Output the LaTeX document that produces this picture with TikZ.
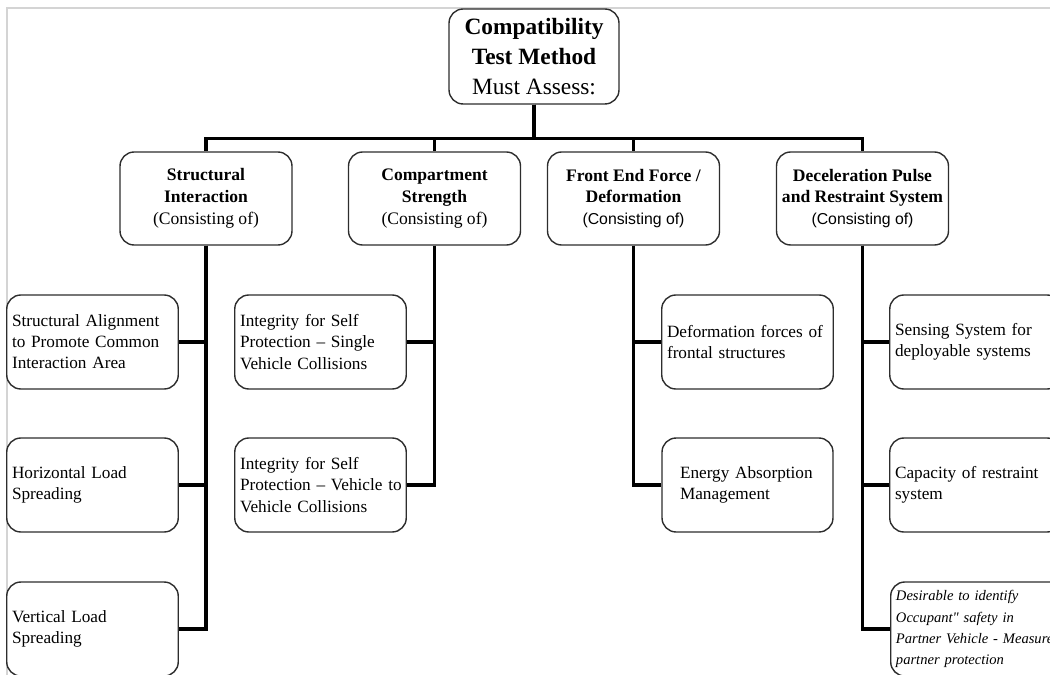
\documentclass[tikz,border=0pt]{standalone}
\usepackage{fontspec}
\setmainfont{Liberation Serif}
\newfontfamily\arialfont{Liberation Sans}
\newfontfamily\plainserif{Liberation Serif}[Ligatures=TeXOff]
\usetikzlibrary{positioning,calc}
\definecolor{BoxLine}{RGB}{45,45,45}
\definecolor{PageGray}{RGB}{212,212,212}
\hyphenpenalty=10000
\exhyphenpenalty=10000
\tikzset{
  basebox/.style={rectangle,rounded corners=8pt,draw=BoxLine,line width=0.8pt,
    fill=white,inner sep=3pt},
  topbox/.style={basebox,align=center,minimum width=3.4cm,minimum height=1.9cm,
    font=\fontsize{13.3}{17}\selectfont},
  headbox/.style={basebox,align=center,minimum width=3.44cm,minimum height=1.86cm,
    font=\fontsize{10}{12.4}\selectfont},
  itembox/.style={basebox,align=left,text width=3.22cm,minimum width=3.42cm,
    minimum height=1.88cm,font=\fontsize{9.8}{12}\selectfont},
  bus/.style={line width=2pt,black},
  pageline/.style={line width=0.6pt,PageGray}
}
\begin{document}
\begin{tikzpicture}[x=0.02cm,y=-0.02cm]
  \useasboundingbox (0,0) rectangle (1050,675);
  \clip (0,0) rectangle (1050,675);
  \draw[pageline] (7,675) -- (7,8) -- (1050,8);
  % top of the tree
  \node[topbox] (top) at (534,56.5) {\textbf{Compatibility}\\\textbf{Test Method}\\Must Assess:};
  % assessment areas
  \node[headbox] (si) at (206,198.5) {\textbf{Structural}\\\textbf{Interaction}\\(Consisting of)};
  \node[headbox] (cs) at (434.5,198.5) {\textbf{Compartment}\\\textbf{Strength}\\(Consisting of)};
  \node[headbox] (fe) at (633.5,198.5) {\textbf{Front End Force /}\\\textbf{Deformation}\\{\arialfont\fontsize{9}{12}\selectfont(Consisting of)}};
  \node[headbox] (dp) at (862.5,198.5) {\textbf{Deceleration Pulse}\\\textbf{and Restraint System}\\{\arialfont\fontsize{9}{12}\selectfont(Consisting of)}};
  % items
  \node[itembox] (sa) at (92.5,342) {Structural Alignment\\to Promote Common\\Interaction Area};
  \node[itembox] (hl) at (92.5,485) {Horizontal Load\\Spreading};
  \node[itembox] (vl) at (92.5,629) {Vertical Load\\Spreading};
  \node[itembox] (is) at (320.5,342) {Integrity for Self\\Protection -- Single\\Vehicle Collisions};
  \node[itembox] (iv) at (320.5,485) {Integrity for Self\\Protection~--~Vehicle~to\\Vehicle Collisions};
  \node[itembox] (df) at (747.5,342) {Deformation~forces~of\\frontal structures};
  \node[itembox,text width=2.7cm] (ea) at (747.5,485) {Energy~Absorption\\Management};
  \node[itembox] (ss) at (975.5,342) {Sensing System for\\deployable systems};
  \node[itembox] (cr) at (975.5,485) {Capacity~of~restraint\\system};
  \node[itembox,anchor=west,text width=3.6cm,
    font=\plainserif\fontsize{8.3}{12}\selectfont\itshape] (dz) at (890,629)
    {Desirable to identify\\Occupant" safety in\\Partner~Vehicle~-~Measure\\partner protection};
  % connectors
  \foreach \h in {si,cs,fe,dp}
    \draw[bus] (top.south) -- ++(0,34) -| (\h.north);
  \foreach \h/\c in {si/sa,si/hl,si/vl,cs/is,cs/iv}
    \draw[bus] (\h.south) |- (\c.east);
  \foreach \h/\c in {fe/df,fe/ea,dp/ss,dp/cr,dp/dz}
    \draw[bus] (\h.south) |- (\c.west);
\end{tikzpicture}
\end{document}
